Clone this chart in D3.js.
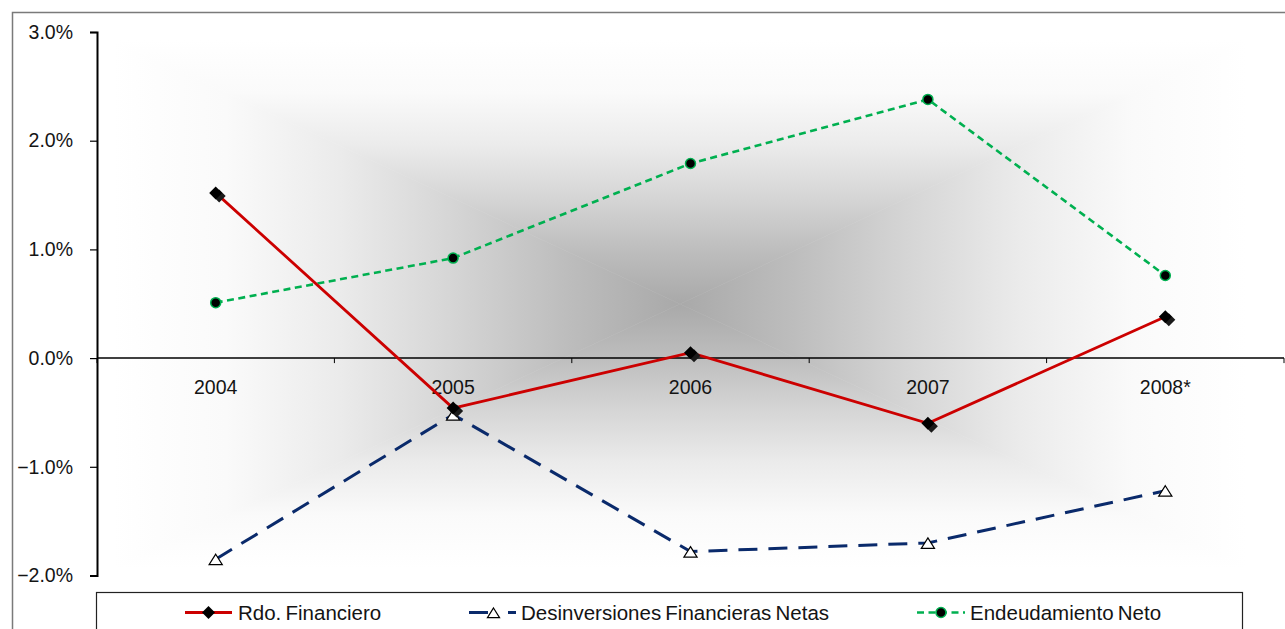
<!DOCTYPE html>
<html>
<head>
<meta charset="utf-8">
<script src="https://cdn.jsdelivr.net/npm/d3@7"></script>
<style>
  html, body { margin: 0; padding: 0; background: #ffffff; }
  svg { display: block; }
  text { font-family: "Liberation Sans", Arial, sans-serif; fill: #141414; }
</style>
</head>
<body>
<svg id="chart" width="1285" height="629"></svg>
<script>
// Series values, in percent
const categories = ["2004", "2005", "2006", "2007", "2008*"];
const rdoFinanciero = [1.52, -0.46, 0.05, -0.60, 0.38];
const desinversionesNetas = [-1.85, -0.52, -1.78, -1.70, -1.22];
const endeudamientoNeto = [0.51, 0.92, 1.79, 2.38, 0.76];
const yTicks = [-2, -1, 0, 1, 2, 3];
const seriesNames = ["Rdo. Financiero", "Desinversiones Financieras Netas", "Endeudamiento Neto"];

const svg = d3.select("#chart");
const plot = { left: 97, right: 1284, top: 32, bottom: 575.5 };

const x = d3.scaleBand().domain(categories).range([plot.left, plot.right]);
const cx = c => x(c) + x.bandwidth() / 2;
const y = d3.scaleLinear().domain([-2, 3]).range([plot.bottom, plot.top]);
const fmt = v => d3.format(".1f")(v) + "%";

// Outer chart frame
svg.append("rect")
  .attr("x", 12.5).attr("y", 12.5).attr("width", 1300).attr("height", 700)
  .attr("fill", "none").attr("stroke", "#7a7a7a").attr("stroke-width", 1.5);

// Plot background: rectangular gradient from the centre outwards
const defs = svg.append("defs");
const g0 = { x0: 113, x1: 1247, y0: 40, y1: 568 };
const gc = { x: (g0.x0 + g0.x1) / 2, y: (g0.y0 + g0.y1) / 2 };
const stops = [[0, "#ffffff"], [0.2, "#fafafa"], [0.4, "#ebebeb"], [0.6, "#d5d5d5"], [0.8, "#bdbdbd"], [1, "#a9a9a9"]];
function grad(id, x1, y1, x2, y2) {
  const lg = defs.append("linearGradient").attr("id", id)
    .attr("gradientUnits", "userSpaceOnUse")
    .attr("x1", x1).attr("y1", y1).attr("x2", x2).attr("y2", y2);
  stops.forEach(s => lg.append("stop").attr("offset", s[0]).attr("stop-color", s[1]));
}
grad("gTop", 0, g0.y0, 0, gc.y);
grad("gBottom", 0, g0.y1, 0, gc.y);
grad("gLeft", g0.x0, 0, gc.x, 0);
grad("gRight", g0.x1, 0, gc.x, 0);
const bg = svg.append("g");
const tri = (pts, fill) => bg.append("polygon")
  .attr("points", pts.map(p => p.join(",")).join(" "))
  .attr("fill", `url(#${fill})`).attr("stroke", `url(#${fill})`).attr("stroke-width", 0.6);
tri([[g0.x0, g0.y0], [g0.x1, g0.y0], [gc.x, gc.y]], "gTop");
tri([[g0.x0, g0.y1], [g0.x1, g0.y1], [gc.x, gc.y]], "gBottom");
tri([[g0.x0, g0.y0], [g0.x0, g0.y1], [gc.x, gc.y]], "gLeft");
tri([[g0.x1, g0.y0], [g0.x1, g0.y1], [gc.x, gc.y]], "gRight");

// Value axis
const yAxis = svg.append("g").attr("transform", `translate(${plot.left},0)`)
  .call(d3.axisLeft(y).tickValues(yTicks).tickFormat(fmt).tickSize(7).tickPadding(17));
yAxis.select(".domain").attr("stroke", "#000").attr("stroke-width", 2);
yAxis.selectAll(".tick line").attr("stroke", "#000").attr("stroke-width", 1.2);
yAxis.selectAll(".tick text").style("font-size", "19.5px")
  .style("font-family", "'Liberation Sans', Arial, sans-serif").attr("fill", "#141414");

// Category axis along zero
const xAxis = svg.append("g").attr("transform", `translate(0,${y(0)})`);
xAxis.append("line").attr("x1", plot.left).attr("x2", plot.right)
  .attr("stroke", "#000").attr("stroke-width", 1.5);
const bounds = categories.map(c => x(c)).concat([plot.right]);
xAxis.selectAll("line.tk").data(bounds).enter().append("line").attr("class", "tk")
  .attr("x1", d => d).attr("x2", d => d).attr("y1", 0).attr("y2", 5)
  .attr("stroke", "#000").attr("stroke-width", 1);
xAxis.selectAll("text").data(categories).enter().append("text")
  .attr("x", d => cx(d)).attr("y", 36).attr("text-anchor", "middle")
  .style("font-size", "19.5px").text(d => d);

// Lines
const line = d3.line().x((d, i) => cx(categories[i])).y(d => y(d));
svg.append("path").datum(desinversionesNetas).attr("d", line)
  .attr("fill", "none").attr("stroke", "#0a2a6b").attr("stroke-width", 3)
  .attr("stroke-dasharray", "19,11");
svg.append("path").datum(endeudamientoNeto).attr("d", line)
  .attr("fill", "none").attr("stroke", "#00b050").attr("stroke-width", 2.6)
  .attr("stroke-dasharray", "7,4.5");
svg.append("path").datum(rdoFinanciero).attr("d", line)
  .attr("fill", "none").attr("stroke", "#cc0000").attr("stroke-width", 2.8);

// Markers
const diamond = (g, px, py, r, fill) => g.append("path")
  .attr("d", `M${px},${py - r}L${px + r},${py}L${px},${py + r}L${px - r},${py}Z`)
  .attr("fill", fill);
const triangle = (g, px, py, r) => g.append("path")
  .attr("d", `M${px},${py - r}L${px + r * 1.1},${py + r * 0.75}L${px - r * 1.1},${py + r * 0.75}Z`)
  .attr("fill", "#ffffff").attr("stroke", "#000").attr("stroke-width", 1.2);
const circle = (g, px, py) => g.append("circle").attr("cx", px).attr("cy", py).attr("r", 5)
  .attr("fill", "#000").attr("stroke", "#00b050").attr("stroke-width", 1.5);

const mk = svg.append("g");
desinversionesNetas.forEach((v, i) => triangle(mk, cx(categories[i]), y(v) + 1, 6));
endeudamientoNeto.forEach((v, i) => circle(mk, cx(categories[i]), y(v)));
rdoFinanciero.forEach((v, i) => {
  diamond(mk, cx(categories[i]) + 3.5, y(v) + 3, 6.5, "#1a1a1a");
  diamond(mk, cx(categories[i]), y(v), 6.5, "#000");
});

// Legend
const lg = svg.append("g");
lg.append("rect").attr("x", 96.5).attr("y", 592.5).attr("width", 1146).attr("height", 60)
  .attr("fill", "#ffffff").attr("stroke", "#222").attr("stroke-width", 1.2);
const ly = 612.5;
const legendItems = [
  { x0: 185, x1: 232, tx: 238 },
  { x0: 469, x1: 516, tx: 521 },
  { x0: 917, x1: 965, tx: 970 }
];
// Rdo. Financiero
lg.append("line").attr("x1", legendItems[0].x0).attr("x2", legendItems[0].x1)
  .attr("y1", ly).attr("y2", ly).attr("stroke", "#cc0000").attr("stroke-width", 2.8);
diamond(lg, (legendItems[0].x0 + legendItems[0].x1) / 2, ly, 6.5, "#000");
// Desinversiones Financieras Netas
lg.append("line").attr("x1", legendItems[1].x0).attr("x2", legendItems[1].x1)
  .attr("y1", ly).attr("y2", ly).attr("stroke", "#0a2a6b").attr("stroke-width", 3)
  .attr("stroke-dasharray", "19,20");
triangle(lg, (legendItems[1].x0 + legendItems[1].x1) / 2 + 1, ly + 1, 5.5);
// Endeudamiento Neto
lg.append("line").attr("x1", legendItems[2].x0).attr("x2", legendItems[2].x1)
  .attr("y1", ly).attr("y2", ly).attr("stroke", "#00b050").attr("stroke-width", 2.6)
  .attr("stroke-dasharray", "7,4.5");
circle(lg, (legendItems[2].x0 + legendItems[2].x1) / 2, ly);

lg.selectAll("text.lt").data(seriesNames).enter().append("text").attr("class", "lt")
  .attr("x", (d, i) => legendItems[i].tx).attr("y", 619.5)
  .style("font-size", "20.5px").style("word-spacing", "-1.5px").text(d => d);
</script>
</body>
</html>
